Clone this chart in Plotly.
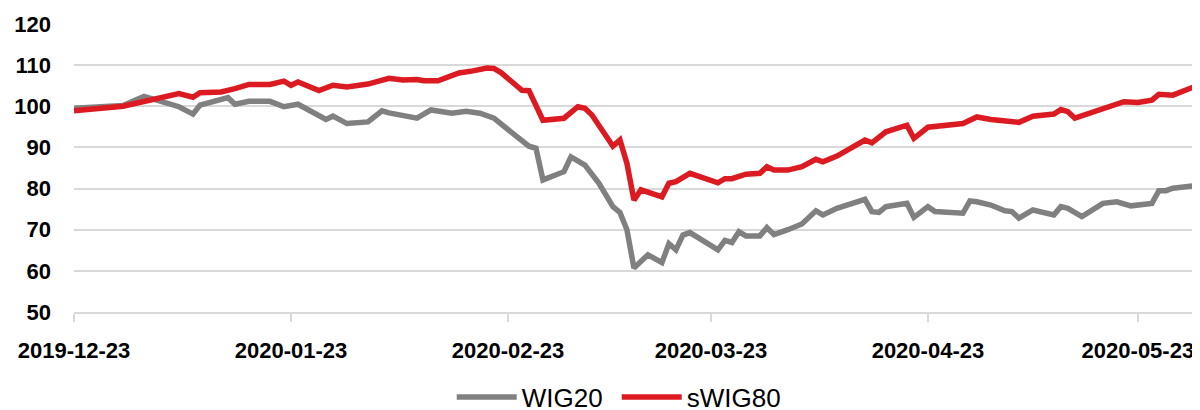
import plotly.graph_objects as go

# ---- data ----
wig20_dates = [
    "2019-12-23", "2019-12-30", "2020-01-02", "2020-01-07", "2020-01-09", "2020-01-10",
    "2020-01-14", "2020-01-15", "2020-01-17", "2020-01-20", "2020-01-22", "2020-01-24",
    "2020-01-28", "2020-01-29", "2020-01-31", "2020-02-03", "2020-02-05", "2020-02-06",
    "2020-02-10", "2020-02-12", "2020-02-15", "2020-02-17", "2020-02-19", "2020-02-21",
    "2020-02-24", "2020-02-26", "2020-02-27", "2020-02-28", "2020-03-02", "2020-03-03",
    "2020-03-05", "2020-03-07", "2020-03-09", "2020-03-10", "2020-03-11", "2020-03-12",
    "2020-03-14", "2020-03-16", "2020-03-17", "2020-03-18", "2020-03-19", "2020-03-20",
    "2020-03-24", "2020-03-25", "2020-03-26", "2020-03-27", "2020-03-28", "2020-03-30",
    "2020-03-31", "2020-04-01", "2020-04-03", "2020-04-05", "2020-04-07", "2020-04-08",
    "2020-04-10", "2020-04-14", "2020-04-15", "2020-04-16", "2020-04-17", "2020-04-20",
    "2020-04-21", "2020-04-23", "2020-04-24", "2020-04-28", "2020-04-29", "2020-04-30",
    "2020-05-02", "2020-05-04", "2020-05-05", "2020-05-06", "2020-05-08", "2020-05-11",
    "2020-05-12", "2020-05-13", "2020-05-15", "2020-05-18", "2020-05-20", "2020-05-22",
    "2020-05-25", "2020-05-26", "2020-05-27", "2020-05-28", "2020-06-01",
]
wig20_values = [
    99.5, 100.2, 102.4, 99.9, 98.1, 100.3,
    102.1, 100.5, 101.2, 101.2, 99.9, 100.5,
    96.8, 97.6, 95.8, 96.2, 98.9, 98.4,
    97.1, 99.1, 98.3, 98.8, 98.3, 97.1,
    93.0, 90.3, 89.8, 82.1, 84.1, 87.7,
    85.7, 81.3, 75.6, 74.2, 70.0, 60.7,
    63.9, 62.0, 66.6, 65.1, 68.7, 69.3,
    65.1, 67.4, 66.9, 69.5, 68.5, 68.5,
    70.5, 68.8, 70.0, 71.4, 74.6, 73.6,
    75.2, 77.4, 74.4, 74.2, 75.6, 76.4,
    73.0, 75.6, 74.4, 74.0, 77.0, 76.8,
    76.0, 74.6, 74.4, 72.8, 74.8, 73.6,
    75.6, 75.2, 73.2, 76.4, 76.8, 75.8,
    76.4, 79.5, 79.5, 80.1, 80.9,
]

swig80_dates = [
    "2019-12-23", "2019-12-30", "2020-01-07", "2020-01-09", "2020-01-10", "2020-01-13",
    "2020-01-15", "2020-01-17", "2020-01-20", "2020-01-22", "2020-01-23", "2020-01-24",
    "2020-01-27", "2020-01-29", "2020-01-31", "2020-02-03", "2020-02-06", "2020-02-08",
    "2020-02-10", "2020-02-11", "2020-02-13", "2020-02-15", "2020-02-16", "2020-02-18",
    "2020-02-20", "2020-02-21", "2020-02-22", "2020-02-25", "2020-02-26", "2020-02-28",
    "2020-03-02", "2020-03-04", "2020-03-05", "2020-03-06", "2020-03-09", "2020-03-10",
    "2020-03-11", "2020-03-12", "2020-03-13", "2020-03-16", "2020-03-17", "2020-03-18",
    "2020-03-20", "2020-03-24", "2020-03-25", "2020-03-26", "2020-03-28", "2020-03-30",
    "2020-03-31", "2020-04-01", "2020-04-03", "2020-04-05", "2020-04-07", "2020-04-08",
    "2020-04-10", "2020-04-14", "2020-04-15", "2020-04-17", "2020-04-20", "2020-04-21",
    "2020-04-23", "2020-04-28", "2020-04-30", "2020-05-02", "2020-05-05", "2020-05-06",
    "2020-05-08", "2020-05-11", "2020-05-12", "2020-05-13", "2020-05-14", "2020-05-18",
    "2020-05-21", "2020-05-23", "2020-05-25", "2020-05-26", "2020-05-28", "2020-06-01",
]
swig80_values = [
    98.9, 100.0, 103.1, 102.2, 103.3, 103.5,
    104.3, 105.3, 105.3, 106.1, 105.1, 105.9,
    103.8, 105.1, 104.7, 105.4, 106.8, 106.4,
    106.5, 106.2, 106.2, 107.6, 108.1, 108.6,
    109.3, 109.2, 108.2, 103.9, 103.8, 96.6,
    97.1, 99.9, 99.5, 97.9, 90.3, 91.8,
    86.1, 77.2, 79.7, 78.0, 81.3, 81.7,
    83.7, 81.4, 82.4, 82.4, 83.5, 83.7,
    85.3, 84.5, 84.5, 85.3, 87.1, 86.5,
    87.9, 91.8, 91.1, 93.8, 95.4, 92.2,
    94.9, 95.8, 97.4, 96.8, 96.5, 96.1,
    97.6, 98.1, 99.2, 98.7, 97.1, 99.5,
    101.1, 100.9, 101.5, 102.9, 102.7, 105.4,
]

tick_dates = ["2019-12-23", "2020-01-23", "2020-02-23", "2020-03-23", "2020-04-23", "2020-05-23"]
y_ticks = [50, 60, 70, 80, 90, 100, 110, 120]

GRAY = "#808080"
RED = "#DC1A22"
GRID = "#D9D9D9"

fig = go.Figure()
fig.add_trace(go.Scatter(x=wig20_dates, y=wig20_values, mode="lines", name="WIG20",
                         line=dict(color=GRAY, width=5.5)))
fig.add_trace(go.Scatter(x=swig80_dates, y=swig80_values, mode="lines", name="sWIG80",
                         line=dict(color=RED, width=5.5)))

tick_font = dict(family="Liberation Sans, Arial, sans-serif", size=22, color="#000000",
                 weight="bold")

# the page adds an 8px body margin, so the figure is 8px smaller than the window
fig.update_layout(
    width=1192, height=402,
    margin=dict(l=66, r=0, t=16, b=98, autoexpand=False),
    paper_bgcolor="white", plot_bgcolor="white",
    showlegend=True,
    legend=dict(orientation="h", x=0.482, xanchor="center",
                yref="container", y=13 / 402, yanchor="middle",
                font=dict(family="Liberation Sans, Arial, sans-serif", size=26, color="#000000"),
                itemwidth=60, entrywidth=90, bgcolor="rgba(0,0,0,0)"),
    xaxis=dict(
        type="date",
        range=["2019-12-23", "2020-05-31 21:00"],
        tickvals=tick_dates, ticktext=tick_dates,
        tickfont=tick_font, automargin=False,
        showgrid=False, zeroline=False,
        showline=True, linecolor=GRID, linewidth=2,
        ticks="outside", ticklen=8, tickcolor=GRID, tickwidth=2,
        ticklabelstandoff=10,
    ),
    yaxis=dict(
        range=[50, 120], tickvals=y_ticks,
        tickfont=tick_font, automargin=False,
        showgrid=True, gridcolor=GRID, gridwidth=2,
        zeroline=False, showline=False, ticks="",
        ticklabelstandoff=22,
    ),
)

fig.write_html("out.html")
